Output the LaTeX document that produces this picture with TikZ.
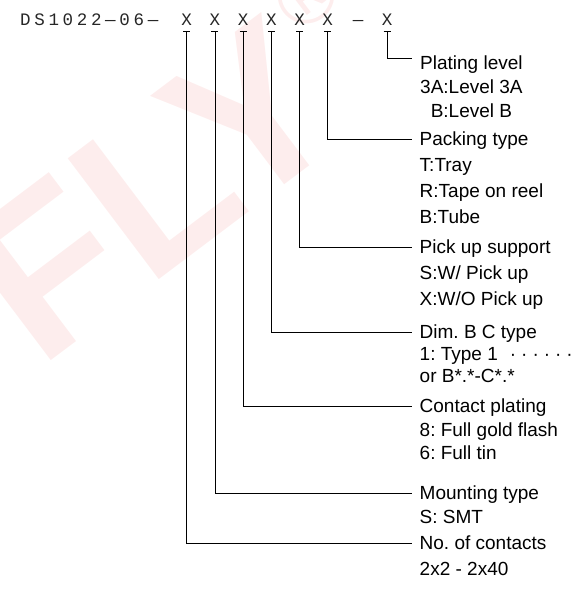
\documentclass[tikz,border=0pt]{standalone}
\usepackage{fontspec}
\setmainfont{Liberation Sans}
\newfontfamily\codefont{Liberation Mono}
\newfontfamily\codewide{Liberation Mono}[LetterSpace=21]
\usepackage{tikz}
\usetikzlibrary{positioning}
\definecolor{markred}{HTML}{E53935}
\frenchspacing
\newcommand\leaderdots{·\hspace{5pt}·\hspace{5pt}·\hspace{5pt}·\hspace{5pt}·\hspace{5pt}·}
\tikzset{
  code/.style={font=\codefont\fontsize{17.5}{20}\selectfont, inner sep=0pt, text=black!85},
  digit/.style={code, anchor=base},
  lead/.style={draw=black, line width=0.75pt},
  % anchor is the baseline of the last line
  desc/.style={font=\fontsize{19}{#1}\selectfont, inner sep=0pt, align=left, anchor=base west, text=black},
  desc/.default=25,
  stamp/.style={text=markred, opacity=0.09, font=\fontsize{220}{220}\selectfont\bfseries, inner sep=0pt}
}
\begin{document}
\begin{tikzpicture}[x=1pt, y=-1pt]
  \useasboundingbox (0,0) rectangle (574,589);
  % faint maker's mark behind the drawing
  \node[stamp, rotate=37] (logo) at (152,190) {FLY};
  \node[stamp, rotate=37, font=\fontsize{80}{80}\selectfont] (reg) at (306,-4) {\textregistered};

  % part number, one X per option
  \node[code, anchor=base west] (pn) at (20,25) {\codewide DS1022—06—};
  \foreach \i in {1,...,6}
    \node[digit] (d\i) at ({186.7+28.2*(\i-1)},25) {X};
  \node[digit] (dash) at (358,25) {—};
  \node[digit] (d7) at (387,25) {X};

  % line ends
  \coordinate (e7) at (412,58);
  \coordinate (e6) at (412,139);
  \coordinate (e5) at (412,247);
  \coordinate (e4) at (412,332);
  \coordinate (e3) at (412,406);
  \coordinate (e2) at (412,493);
  \coordinate (e1) at (412,543);

  % option texts
  \node[desc=24, align=center] (plating) at (420,117) {Plating level\\3A:Level 3A\\B:Level B};
  \node[desc=26] (packing) at (419.5,223.8) {Packing type\\T:Tray\\R:Tape on reel\\B:Tube};
  \node[desc=26] (pickup) at (419.5,305.8) {Pick up support\\S:W/ Pick up\\X:W/O Pick up};
  \node[desc=22] (dimbc) at (419.5,382.8) {Dim. B C type\\1: Type 1\hspace{12pt}\leaderdots\\or B*.*-C*.*};
  \node[desc=23.5] (contact) at (419.5,459.8) {Contact plating\\8: Full gold flash\\6: Full tin};
  \node[desc=23.5] (mounting) at (419.5,523.3) {Mounting type\\S: SMT};
  \node[desc=25.3] (contacts) at (419.5,575.1) {No. of contacts\\2x2 - 2x40};

  % leaders
  \foreach \i in {1,...,7}{
    \draw[lead] (d\i.base) ++(-3.5,6.7) -- ++(7,0);
    \draw[lead] (d\i.base) ++(0,6.7) |- (e\i);
  }
\end{tikzpicture}
\end{document}
